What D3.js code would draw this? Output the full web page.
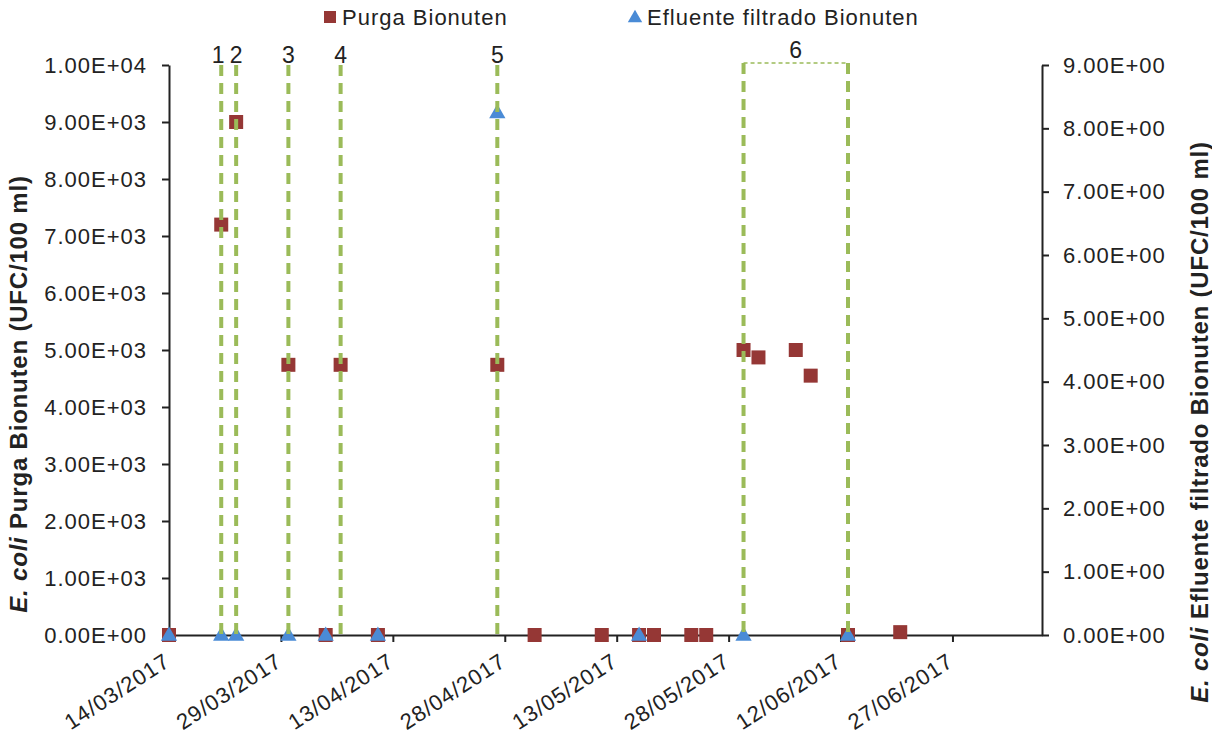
<!DOCTYPE html>
<meta charset="utf-8">
<script src="https://d3js.org/d3.v7.min.js"></script>
<style>
  body { margin: 0; background: #fff; }
  text { font-family: "Liberation Sans", Arial, sans-serif; fill: #222; }
  .tick text { font-size: 22px; letter-spacing: 1px; }
  .axis path, .axis line { stroke: #222; stroke-width: 2px; }
</style>
<body>
</body>
<script>
// data
var purgaDates = ["14/03/2017", "21/03/2017", "23/03/2017", "30/03/2017", "04/04/2017", "06/04/2017",
  "11/04/2017", "27/04/2017", "02/05/2017", "11/05/2017", "16/05/2017", "18/05/2017", "23/05/2017",
  "25/05/2017", "30/05/2017", "01/06/2017", "06/06/2017", "08/06/2017", "13/06/2017", "20/06/2017"];
var purgaValues = [0, 7200, 9000, 4740, 0, 4740, 0, 4740, 0, 0, 0, 0, 0, 0, 5000, 4870, 5000, 4550, 0, 50];

var efluenteDates = ["14/03/2017", "21/03/2017", "23/03/2017", "30/03/2017", "04/04/2017", "11/04/2017",
  "27/04/2017", "16/05/2017", "30/05/2017", "13/06/2017"];
var efluenteValues = [0, 0, 0, 0, 0, 0, 8.25, 0, 0, 0];

var eventDates = ["21/03/2017", "23/03/2017", "30/03/2017", "06/04/2017", "27/04/2017"];
var eventLabels = ["1", "2", "3", "4", "5"];
var boxDates = ["30/05/2017", "13/06/2017"];
var boxLabel = "6";

var xTickLabels = ["14/03/2017", "29/03/2017", "13/04/2017", "28/04/2017", "13/05/2017",
  "28/05/2017", "12/06/2017", "27/06/2017"];
var xMin = "14/03/2017", xMax = "09/07/2017";
var leftTicks = [0, 1000, 2000, 3000, 4000, 5000, 6000, 7000, 8000, 9000, 10000];
var rightTicks = [0, 1, 2, 3, 4, 5, 6, 7, 8, 9];

var parse = d3.timeParse("%d/%m/%Y");
var fmt = d3.timeFormat("%d/%m/%Y");

var W = 1212, H = 736;
var mLeft = 169, mRight = 1042, mTop = 65, mBottom = 635;

var svg = d3.select("body").append("svg")
  .attr("width", W).attr("height", H);

var x = d3.scaleTime().domain([parse(xMin), parse(xMax)]).range([mLeft, mRight]);
var yL = d3.scaleLinear().domain([0, 10000]).range([mBottom, mTop]);
var yR = d3.scaleLinear().domain([0, 9]).range([mBottom, mTop]);

var sci = function(d) { return d.toExponential(2).replace("e", "E").replace(/E([+-])(\d)$/, "E$10$2"); };

// left axis
svg.append("g").attr("class", "axis")
  .attr("transform", "translate(" + mLeft + ",0)")
  .call(d3.axisLeft(yL).tickValues(leftTicks).tickFormat(sci).tickSize(7).tickPadding(15).tickSizeOuter(0));

// right axis
svg.append("g").attr("class", "axis")
  .attr("transform", "translate(" + mRight + ",0)")
  .call(d3.axisRight(yR).tickValues(rightTicks).tickFormat(sci).tickSize(7).tickPadding(14).tickSizeOuter(0));

// x axis
var xa = svg.append("g").attr("class", "axis")
  .attr("transform", "translate(0," + mBottom + ")")
  .call(d3.axisBottom(x).tickValues(xTickLabels.map(parse)).tickFormat(fmt).tickSize(7).tickSizeOuter(0));
xa.selectAll(".tick text")
  .attr("text-anchor", "end")
  .attr("dy", null).attr("y", 0)
  .attr("transform", "translate(2,30) rotate(-33)");

// axis titles
var lt = svg.append("text")
  .attr("transform", "translate(27,394) rotate(-90)")
  .attr("text-anchor", "middle")
  .style("font-size", "24px").style("font-weight", "bold").style("letter-spacing", "0.8px");
lt.append("tspan").style("font-style", "italic").text("E. coli");
lt.append("tspan").text("  Purga Bionuten (UFC/100 ml)");

var rt = svg.append("text")
  .attr("transform", "translate(1208,422) rotate(-90)")
  .attr("text-anchor", "middle")
  .style("font-size", "24px").style("font-weight", "bold").style("letter-spacing", "0.8px");
rt.append("tspan").style("font-style", "italic").text("E. coli");
rt.append("tspan").text(" Efluente filtrado Bionuten (UFC/100 ml)");

// markers
var purga = purgaDates.map(function(d, i) { return { date: parse(d), v: purgaValues[i] }; });
var eflu = efluenteDates.map(function(d, i) { return { date: parse(d), v: efluenteValues[i] }; });

svg.append("g").selectAll("rect").data(purga).join("rect")
  .attr("x", function(d) { return x(d.date) - 7; })
  .attr("y", function(d) { return yL(d.v) - 7; })
  .attr("width", 14).attr("height", 14)
  .attr("fill", "#953735");

var tri = d3.symbol().type(d3.symbolTriangle).size(115);
svg.append("g").selectAll("path").data(eflu).join("path")
  .attr("d", tri)
  .attr("transform", function(d) { return "translate(" + x(d.date) + "," + (yR(d.v) + 1) + ")"; })
  .attr("fill", "#4a8bd6");

// event lines
var green = "#9bbb59";
var ev = svg.append("g");
eventDates.forEach(function(d, i) {
  var xx = x(parse(d));
  ev.append("line").attr("x1", xx).attr("x2", xx).attr("y1", yL(10000)).attr("y2", mBottom)
    .attr("stroke", green).attr("stroke-width", 4).attr("stroke-dasharray", "11,7");
  ev.append("text").attr("x", xx + (i === 0 ? -3 : 0)).attr("y", mTop - 2)
    .attr("text-anchor", "middle").style("font-size", "23px").text(eventLabels[i]);
});
var bx = boxDates.map(function(d) { return x(parse(d)); });
bx.forEach(function(xx) {
  ev.append("line").attr("x1", xx).attr("x2", xx).attr("y1", mTop - 2).attr("y2", mBottom)
    .attr("stroke", green).attr("stroke-width", 4).attr("stroke-dasharray", "11,7");
});
ev.append("line").attr("x1", bx[0]).attr("x2", bx[1]).attr("y1", mTop - 2).attr("y2", mTop - 2)
  .attr("stroke", green).attr("stroke-width", 1.5).attr("stroke-dasharray", "4,3");
ev.append("text").attr("x", (bx[0] + bx[1]) / 2).attr("y", mTop - 7)
  .attr("text-anchor", "middle").style("font-size", "23px").text(boxLabel);

// legend
var lg = svg.append("g").style("font-size", "22px").style("letter-spacing", "1px");
lg.append("rect").attr("x", 324).attr("y", 11).attr("width", 12).attr("height", 12).attr("fill", "#953735");
lg.append("text").attr("x", 342).attr("y", 25).text("Purga Bionuten");
lg.append("path").attr("d", d3.symbol().type(d3.symbolTriangle).size(90))
  .attr("transform", "translate(635,18)").attr("fill", "#4a8bd6");
lg.append("text").attr("x", 647).attr("y", 25).text("Efluente filtrado Bionuten");
</script>
